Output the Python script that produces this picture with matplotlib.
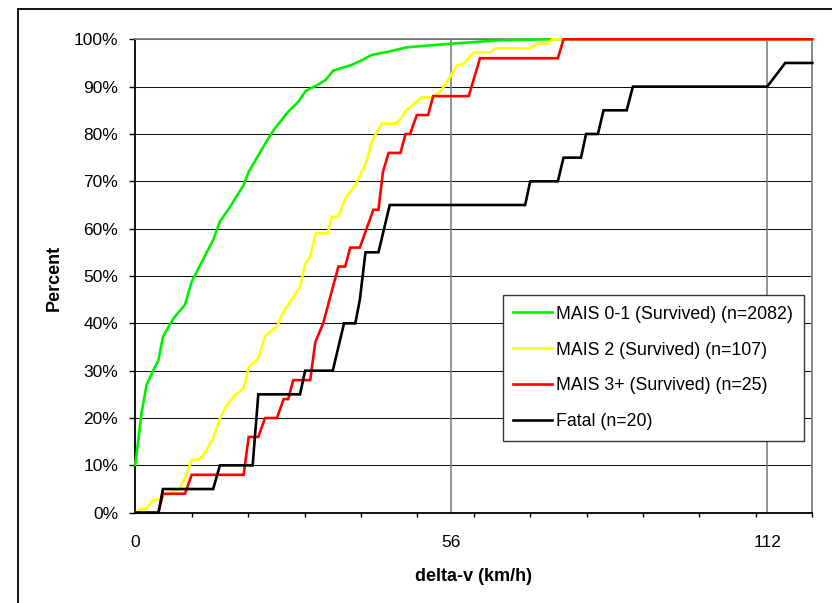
import matplotlib
matplotlib.use("Agg")
import matplotlib.pyplot as plt
from matplotlib.patches import Rectangle
from matplotlib.ticker import FixedLocator, MultipleLocator, FuncFormatter

plt.rcParams['font.family'] = ['Liberation Sans', 'DejaVu Sans']

# cumulative distributions of delta-v, by injury group
green_v = [0, 1.1, 2.0, 3.2, 4.1, 4.9, 6.8, 8.8, 10.0, 11.8, 13.8, 15.0, 16.8,
           19.2, 20.1, 22.7, 24.5, 27.1, 28.9, 30.2, 32.2, 33.7, 35.1, 38.4,
           40.2, 41.9, 44.9, 48.1, 55.2, 61.1, 64.7, 73.0, 120]
green_pct = [10.1, 21.0, 27.0, 30.1, 32.2, 37.2, 41.1, 43.9, 48.8, 53.0, 57.6,
             61.5, 64.6, 69.2, 72.0, 77.3, 80.8, 84.7, 86.8, 89.1, 90.3, 91.4,
             93.4, 94.6, 95.6, 96.7, 97.4, 98.3, 99.0, 99.5, 99.8, 100, 100]

yellow_v = [0, 0.7, 2.0, 3.1, 4.4, 5.0, 7.9, 8.8, 10.0, 11.2, 12.1, 13.8, 15.0,
            16.2, 17.4, 19.2, 20.1, 21.8, 23.0, 25.1, 26.3, 29.2, 30.1, 31.0,
            32.0, 34.1, 34.8, 36.0, 37.2, 39.0, 40.8, 42.0, 43.7, 46.1, 47.0,
            48.1, 50.8, 52.8, 54.3, 55.8, 57.0, 58.2, 60.0, 63.0, 63.8, 70.0,
            71.2, 73.0, 73.9, 120]
yellow_pct = [0, 0.6, 0.9, 2.7, 2.8, 3.5, 5.1, 7.3, 11.1, 11.2, 12.2, 15.7,
              19.9, 22.7, 24.5, 26.3, 30.7, 32.6, 37.3, 39.3, 42.5, 47.7, 52.5,
              54.1, 59.0, 59.0, 62.5, 62.5, 66.4, 69.2, 73.5, 78.7, 82.2, 82.2,
              83.1, 85.1, 87.7, 87.7, 89.3, 92.1, 94.4, 94.8, 97.2, 97.2, 98.1,
              98.1, 99.1, 99.1, 100, 100]

red_v = [0, 4.1, 4.9, 8.8, 10.0, 19.2, 20.1, 21.8, 23.0, 25.1, 26.3, 27.1, 28.0,
         31.0, 31.9, 33.3, 36.0, 37.2, 38.1, 39.8, 42.2, 43.1, 43.9, 44.9, 47.0,
         47.9, 48.7, 49.9, 51.9, 52.8, 59.1, 61.1, 74.9, 75.9, 120]
red_pct = [0, 0, 4, 4, 8, 8, 16, 16, 20, 20, 24, 24, 28, 28, 36, 40, 52, 52, 56,
           56, 64, 64, 72, 76, 76, 80, 80, 84, 84, 88, 88, 96, 96, 100, 100]

black_v = [0, 4.1, 4.9, 13.8, 15.0, 20.8, 21.8, 29.2, 30.1, 35.0, 37.0, 39.0,
           39.8, 40.8, 43.1, 45.1, 69.1, 70.0, 74.9, 75.9, 79.0, 79.9, 82.0,
           83.0, 87.1, 88.2, 112.0, 115.2, 120]
black_pct = [0, 0, 5, 5, 10, 10, 25, 25, 30, 30, 40, 40, 45, 55, 55, 65, 65, 70,
             70, 75, 75, 80, 80, 85, 85, 90, 90, 95, 95]

labels = ['MAIS 0-1 (Survived) (n=2082)', 'MAIS 2 (Survived) (n=107)',
          'MAIS 3+ (Survived) (n=25)', 'Fatal (n=20)']
colors = ['#00f000', '#ffff00', '#ff0000', '#000000']

W, H = 832, 603
fig = plt.figure(figsize=(W / 100, H / 100), dpi=100)
fig.patch.set_facecolor('white')

# chart frame (runs off the right and bottom edge)
fig.add_artist(Rectangle((18 / W, -0.1), 1.1, 0.1 + 1 - 9 / H,
                         transform=fig.transFigure, fill=False,
                         edgecolor='black', lw=1.3))

x0, x1, y0, y1 = 135.3, 812.3, 39.3, 512.7
ax = fig.add_axes([x0 / W, 1 - y1 / H, (x1 - x0) / W, (y1 - y0) / H])

series = [(green_v, green_pct), (yellow_v, yellow_pct),
          (red_v, red_pct), (black_v, black_pct)]
for (v, p), c, lab in zip(series, colors, labels):
    ax.plot(v, p, color=c, lw=1.9, label=lab, zorder=3, clip_on=False,
            solid_joinstyle='miter')

ax.set_xlim(0, 120)
ax.set_ylim(0, 100)

ax.yaxis.set_major_locator(MultipleLocator(10))
ax.yaxis.set_major_formatter(FuncFormatter(lambda y, _: f'{y:.0f}%'))
ax.xaxis.set_major_locator(FixedLocator([0, 56, 112]))
ax.xaxis.set_minor_locator(MultipleLocator(10))

ax.tick_params(axis='y', which='major', direction='out', length=4.3, width=1,
               color='black', pad=8, labelsize=12.5)
ax.tick_params(axis='x', which='major', length=0, pad=16, labelsize=12.5)
ax.tick_params(axis='x', which='minor', direction='out', length=3, width=1,
               color='black')

for y in range(10, 101, 10):
    ax.axhline(y, color='#111111', lw=0.75, zorder=1)
for x in (56, 112):
    ax.axvline(x, color='#808080', lw=1.2, zorder=1)

for side in ('left', 'bottom'):
    ax.spines[side].set_color('black')
    ax.spines[side].set_linewidth(1.3)
for side in ('top', 'right'):
    ax.spines[side].set_color('#808080')
    ax.spines[side].set_linewidth(1.3)

fig.text(473.8 / W, 1 - 576.7 / H, 'delta-v (km/h)', fontsize=13,
         fontweight='bold', ha='center', va='center')
fig.text(54 / W, 1 - 278 / H, 'Percent', fontsize=13, fontweight='bold',
         rotation=90, ha='center', va='center')

leg = ax.legend(loc='upper left', bbox_to_anchor=(502.7 / W, 1 - 295 / H),
                bbox_transform=fig.transFigure, borderaxespad=0,
                fontsize=12.8, frameon=True, fancybox=False, framealpha=1,
                edgecolor='#333333', handlelength=2.15, handletextpad=0.25,
                borderpad=0.6, labelspacing=1.06)
leg.get_frame().set_linewidth(1.0)

fig.savefig('out.png', dpi=100, facecolor='white')
